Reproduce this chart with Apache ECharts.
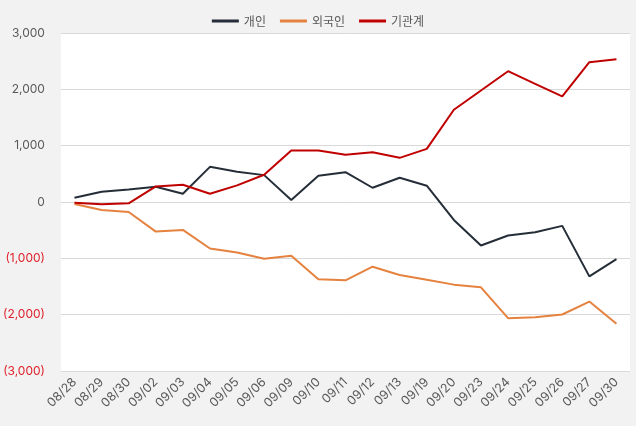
<!DOCTYPE html>
<html><head><meta charset="utf-8">
<script src="https://cdn.jsdelivr.net/npm/echarts@6/dist/echarts.min.js"></script>
<style>html,body{margin:0;padding:0;background:#f2f2f2;}#c{width:636px;height:426px;}</style>
</head><body><div id="c"></div>
<script>
const categories = ['08/28','08/29','08/30','09/02','09/03','09/04','09/05','09/06','09/09','09/10','09/11','09/12','09/13','09/19','09/20','09/23','09/24','09/25','09/26','09/27','09/30'];
const individual = [76,182,224,270,147,624,536,477,35,465,530,253,430,289,-318,-772,-595,-536,-424,-1320,-1013];
const foreign = [-35,-141,-177,-525,-495,-825,-896,-1008,-955,-1373,-1391,-1149,-1296,-1379,-1467,-1514,-2062,-2045,-1997,-1768,-2163];
const institution = [-12,-41,-23,277,306,147,295,483,913,913,837,884,784,943,1638,1980,2322,2098,1874,2481,2534];
const seriesNames = ['개인','외국인','기관계'];
const yMin = -3000, yMax = 3000, yStep = 1000;

const font = "'Noto Sans CJK KR', 'Noto Sans', sans-serif";
const numFont = "Inter, 'Noto Sans', sans-serif";
const chart = echarts.init(document.getElementById('c'), null, {renderer:'canvas'});
function fmt(v){
  const s = Math.abs(v).toLocaleString('en-US');
  return v < 0 ? '{neg|(' + s + ')}' : '{pos|' + s + '}';
}
const colors = ['#252d38','#e5823f','#c00000'];
const data = [individual, foreign, institution];
chart.setOption({
  backgroundColor:'#f2f2f2',
  textStyle:{fontFamily:font},
  legend:{
    top:10, left:'center', itemWidth:27, itemHeight:3, itemGap:14,
    icon:'rect',
    textStyle:{fontSize:12, color:'#595959', fontFamily:font},
    data:seriesNames
  },
  grid:{left:60, right:6, top:33, bottom:55, show:true, backgroundColor:'#ffffff', borderWidth:0},
  xAxis:{
    type:'category', data:categories, boundaryGap:true,
    axisLine:{show:true, lineStyle:{color:'#d9d9d9'}},
    axisTick:{show:false},
    axisLabel:{rotate:45, fontSize:12.5, color:'#595959', margin:9, interval:0, fontFamily:numFont}
  },
  yAxis:{
    type:'value', min:yMin, max:yMax, interval:yStep,
    axisLine:{show:false}, axisTick:{show:false},
    splitLine:{lineStyle:{color:'#d9d9d9', width:1}},
    axisLabel:{
      margin:16, formatter:fmt,
      rich:{
        pos:{fontSize:12, color:'#595959', fontFamily:numFont},
        neg:{fontSize:12, color:'#e0202a', fontFamily:numFont}
      }
    }
  },
  series: seriesNames.map((n,i)=>({
    name:n, type:'line', data:data[i], showSymbol:false, symbol:'none',
    lineStyle:{width:2, color:colors[i]}, itemStyle:{color:colors[i]}
  }))
});
</script></body></html>
